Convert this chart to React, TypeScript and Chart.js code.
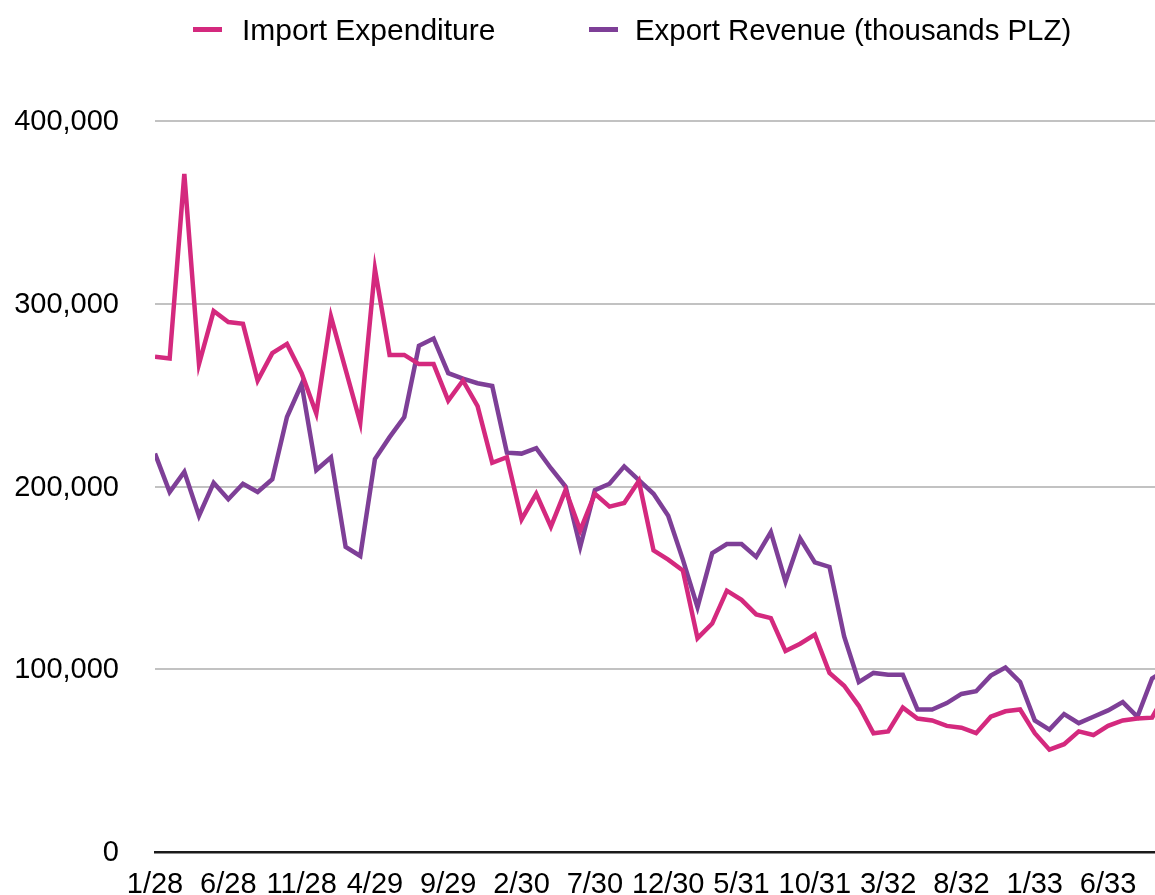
import React, { useEffect, useRef } from "react";
import { Chart, registerables } from "chart.js";

Chart.register(...registerables);

const FONT = "'Liberation Sans', Arial, Helvetica, sans-serif";

const MONTH_LABELS = [
  "1/28", "2/28", "3/28", "4/28", "5/28", "6/28", "7/28", "8/28", "9/28", "10/28", "11/28", "12/28",
  "1/29", "2/29", "3/29", "4/29", "5/29", "6/29", "7/29", "8/29", "9/29", "10/29", "11/29", "12/29",
  "1/30", "2/30", "3/30", "4/30", "5/30", "6/30", "7/30", "8/30", "9/30", "10/30", "11/30", "12/30",
  "1/31", "2/31", "3/31", "4/31", "5/31", "6/31", "7/31", "8/31", "9/31", "10/31", "11/31", "12/31",
  "1/32", "2/32", "3/32", "4/32", "5/32", "6/32", "7/32", "8/32", "9/32", "10/32", "11/32", "12/32",
  "1/33", "2/33", "3/33", "4/33", "5/33", "6/33", "7/33", "8/33", "9/33", "10/33",
];

const IMPORT_EXPENDITURE = [
  271000, 270000, 371000, 267000, 296000, 290000, 289000, 258000, 273000, 278000, 262000, 240000,
  293000, 264000, 235000, 319000, 272000, 272000, 267000, 267000, 247000, 258000, 244000, 213000,
  216000, 182000, 196000, 178000, 198000, 176000, 196000, 189000, 191000, 203000, 165000, 160000,
  154000, 117000, 125000, 143000, 138000, 130000, 128000, 110000, 114000, 119000, 98000, 91000,
  80000, 65000, 66000, 79000, 73000, 72000, 69000, 68000, 65000, 74000, 77000, 78000,
  65000, 56000, 59000, 66000, 64000, 69000, 72000, 73000, 73500, 88000,
];

const EXPORT_REVENUE = [
  218000, 197000, 208000, 184000, 202000, 193000, 201500, 197000, 204000, 238000, 256000, 209000,
  216000, 167000, 162000, 215000, 227000, 238000, 277000, 281000, 262000, 259000, 256500, 255000,
  218500, 218000, 221000, 210000, 200000, 167000, 198000, 201500, 211000, 203500, 196000, 184000,
  160000, 134000, 163500, 168500, 168500, 161500, 175000, 148000, 171500, 158500, 156000, 118000,
  93000, 98000, 97000, 97000, 78000, 78000, 81500, 86500, 88000, 96500, 101000, 93000,
  72000, 67000, 75500, 70500, 74000, 77500, 82000, 74000, 95000, 100000,
];

const SERIES_NAMES = ["Import Expenditure", "Export Revenue (thousands PLZ)"];
const SERIES_COLORS = ["#d4297e", "#7e3f97"];

const Y_MIN = 0;
const Y_MAX = 400000;
const Y_STEP = 100000;
const X_TICK_EVERY = 5;
const X_VISIBLE_MAX = 68.2;

const legendPlugin = {
  id: "customLegend",
  afterDraw(chart: any) {
    const ctx = chart.ctx;
    const slots = [
      { box: 193, text: 242, size: 30 },
      { box: 589, text: 635, size: 29.4 },
    ];
    ctx.save();
    ctx.textAlign = "left";
    ctx.textBaseline = "alphabetic";
    chart.data.datasets.forEach((ds: any, i: number) => {
      const s = slots[i];
      ctx.fillStyle = ds.borderColor;
      ctx.fillRect(s.box, 27, 29, 5);
      ctx.fillStyle = "#000";
      ctx.font = `${s.size}px ${FONT}`;
      ctx.fillText(ds.label, s.text, 40);
    });
    ctx.restore();
  },
};

export default function App() {
  const canvasRef = useRef<HTMLCanvasElement | null>(null);

  useEffect(() => {
    if (!canvasRef.current) return;
    const toPoints = (arr: number[]) => arr.map((v, i) => ({ x: i, y: v }));
    const chart = new Chart(canvasRef.current, {
      type: "line",
      data: {
        datasets: [
          {
            label: SERIES_NAMES[0],
            data: toPoints(IMPORT_EXPENDITURE),
            borderColor: SERIES_COLORS[0],
            backgroundColor: SERIES_COLORS[0],
            borderWidth: 4.5,
            pointRadius: 0,
            tension: 0,
            fill: false,
          },
          {
            label: SERIES_NAMES[1],
            data: toPoints(EXPORT_REVENUE),
            borderColor: SERIES_COLORS[1],
            backgroundColor: SERIES_COLORS[1],
            borderWidth: 4.5,
            pointRadius: 0,
            tension: 0,
            fill: false,
          },
        ],
      },
      options: {
        animation: false,
        responsive: true,
        maintainAspectRatio: false,
        layout: { padding: { top: 121, left: 0, right: 0, bottom: 0 } },
        plugins: {
          legend: { display: false },
          tooltip: { enabled: false },
        },
        scales: {
          x: {
            type: "linear",
            min: 0,
            max: X_VISIBLE_MAX,
            grid: { display: false, drawTicks: false },
            border: { display: true, color: "#1a1a1a", width: 2.5 },
            afterFit: (scale: any) => {
              scale.height = 58;
            },
            afterBuildTicks: (scale: any) => {
              scale.ticks = MONTH_LABELS.map((_, i) => i)
                .filter((i) => i % X_TICK_EVERY === 0 && i <= scale.max)
                .map((v) => ({ value: v }));
            },
            ticks: {
              autoSkip: false,
              maxRotation: 0,
              padding: 16,
              color: "#000",
              font: { family: FONT, size: 29 },
              callback: (v: any) => MONTH_LABELS[v as number] ?? "",
            },
          },
          y: {
            min: Y_MIN,
            max: Y_MAX,
            border: { display: false },
            grid: {
              drawTicks: false,
              lineWidth: 2,
              color: (c: any) => (c.tick && c.tick.value === 0 ? "rgba(0,0,0,0)" : "#c2c2c2"),
            },
            afterFit: (scale: any) => {
              scale.width = 155;
            },
            ticks: {
              stepSize: Y_STEP,
              padding: 36,
              labelOffset: 1,
              color: "#000",
              font: { family: FONT, size: 29 },
              callback: (v: any) => Number(v).toLocaleString("en-US"),
            },
          },
        },
      },
      plugins: [legendPlugin],
    });
    return () => chart.destroy();
  }, []);

  return (
    <div
      style={{
        position: "fixed",
        left: 0,
        top: 0,
        width: 1155,
        height: 895,
        overflow: "hidden",
        background: "#fff",
      }}
    >
      <div style={{ position: "absolute", left: 0, top: 0, width: 1155, height: 910 }}>
        <canvas ref={canvasRef} />
      </div>
    </div>
  );
}
